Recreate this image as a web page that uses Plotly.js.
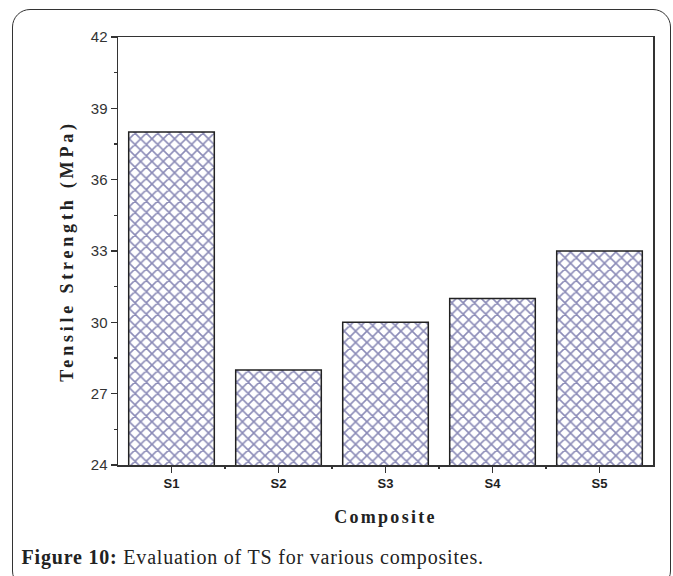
<!DOCTYPE html>
<html><head><meta charset="utf-8">
<script src="https://cdn.plot.ly/plotly-3.0.1.min.js"></script>
<style>
html,body{margin:0;padding:0;background:#fff;}
#wrap{position:relative;width:673px;height:576px;overflow:hidden;}
#frame{position:absolute;left:12px;top:9px;width:659px;height:580px;border:1.5px solid #333;border-radius:18px;box-sizing:border-box;pointer-events:none;}
#chart{position:absolute;left:0;top:0;width:673px;height:576px;}
</style></head>
<body><div id="wrap"><div id="frame"></div><div id="chart"></div></div>
<script>
const categories = ["S1","S2","S3","S4","S5"];
const tensileStrength = [38, 28, 30, 31, 33];
const yTicks = [24, 27, 30, 33, 36, 39, 42];

const trace = {
  type: "bar",
  x: categories,
  y: tensileStrength,
  base: 0,
  width: 0.8,
  marker: {
    color: "#ffffff",
    line: {color: "#222", width: 1.5},
    pattern: {shape: "x", fgcolor: "#181870", bgcolor: "#ffffff", size: 8, solidity: 0.36, fillmode: "overlay"}
  },
  hoverinfo: "skip"
};
const layout = {
  width: 673, height: 576,
  margin: {l: 118, r: 20, t: 37, b: 111},
  paper_bgcolor: "rgba(0,0,0,0)",
  plot_bgcolor: "#ffffff",
  showlegend: false,
  bargap: 0.2,
  xaxis: {
    type: "category",
    range: [-0.5, 4.5],
    showline: true, mirror: true, linecolor: "#333", linewidth: 1.5,
    ticks: "outside", ticklen: 6, tickcolor: "#333", tickwidth: 1.2,
    showgrid: false, zeroline: false,
    tickfont: {family: "Liberation Sans, Arial", size: 13, color: "#222", weight: "bold"},
    title: {text: "Composite", font: {family: "Liberation Serif, Times New Roman", size: 18, color: "#222", weight: "bold"}, standoff: 20}
  },
  xaxis2: {
    overlaying: "x", anchor: "y", side: "bottom",
    range: [-0.5, 4.5], showgrid: false, zeroline: false, showline: false,
    tickvals: [0.5, 1.5, 2.5, 3.5], ticktext: ["", "", "", ""],
    ticks: "outside", ticklen: 3, tickcolor: "#333", tickwidth: 1.2
  },
  yaxis: {
    range: [24, 42],
    tickvals: yTicks,
    showline: true, mirror: true, linecolor: "#333", linewidth: 1.5,
    ticks: "outside", ticklen: 6, tickcolor: "#333", tickwidth: 1.2,
    minor: {dtick: 1.5, tick0: 24, ticks: "outside", ticklen: 3, tickcolor: "#333", tickwidth: 1.2, showgrid: false},
    showgrid: false, zeroline: false,
    tickfont: {family: "Liberation Sans, Arial", size: 15, color: "#333"},
    title: {text: "Tensile Strength (MPa)", font: {family: "Liberation Serif, Times New Roman", size: 18, color: "#222", weight: "bold"}, standoff: 12}
  },
  annotations: [{
    xref: "paper", yref: "paper", x: -0.145, y: -0.217, xanchor: "left", yanchor: "middle",
    text: "<b>Figure 10:</b> Evaluation of TS for various composites.",
    showarrow: false,
    font: {family: "Liberation Serif, Times New Roman", size: 20, color: "#222"}
  }]
};
const helper = {type: "scatter", x: [0], y: [24], xaxis: "x2", yaxis: "y", mode: "markers", marker: {opacity: 0}, hoverinfo: "skip"};
Plotly.newPlot("chart", [trace, helper], layout, {displayModeBar: false, staticPlot: true}).then(function(gd){
  gd.querySelectorAll(".ytitle").forEach(function(el){ el.style.letterSpacing = "3.8px"; });
  gd.querySelectorAll(".xtitle").forEach(function(el){ el.style.letterSpacing = "2.3px"; });
  gd.querySelectorAll(".annotation-text").forEach(function(el){ el.style.letterSpacing = "0.8px"; });
});
</script></body></html>
